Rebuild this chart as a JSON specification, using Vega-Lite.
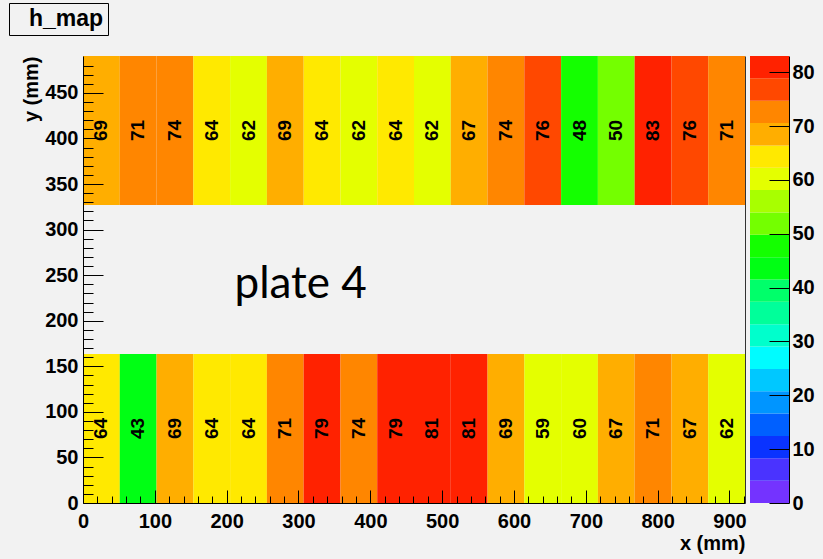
{
  "$schema": "https://vega.github.io/schema/vega-lite/v6.json",
  "background": "#f2f2f2",
  "padding": {"left": 8, "top": 2, "right": 15, "bottom": 10},
  "config": {
    "view": {"stroke": null},
    "font": "Liberation Sans"
  },
  "spacing": 3,
  "resolve": {"scale": {"color": "shared"}},
  "hconcat": [
    {
      "width": 662,
      "height": 447,
      "data": {"values": [
        {"x0": 0, "x1": 51.2, "xc": 25.6, "y0": 327, "y1": 490.5, "yc": 408.75, "v": 69},
        {"x0": 51.2, "x1": 102.4, "xc": 76.8, "y0": 327, "y1": 490.5, "yc": 408.75, "v": 71},
        {"x0": 102.4, "x1": 153.6, "xc": 128, "y0": 327, "y1": 490.5, "yc": 408.75, "v": 74},
        {"x0": 153.6, "x1": 204.8, "xc": 179.2, "y0": 327, "y1": 490.5, "yc": 408.75, "v": 64},
        {"x0": 204.8, "x1": 256, "xc": 230.4, "y0": 327, "y1": 490.5, "yc": 408.75, "v": 62},
        {"x0": 256, "x1": 307.2, "xc": 281.6, "y0": 327, "y1": 490.5, "yc": 408.75, "v": 69},
        {"x0": 307.2, "x1": 358.4, "xc": 332.8, "y0": 327, "y1": 490.5, "yc": 408.75, "v": 64},
        {"x0": 358.4, "x1": 409.6, "xc": 384, "y0": 327, "y1": 490.5, "yc": 408.75, "v": 62},
        {"x0": 409.6, "x1": 460.8, "xc": 435.2, "y0": 327, "y1": 490.5, "yc": 408.75, "v": 64},
        {"x0": 460.8, "x1": 512, "xc": 486.4, "y0": 327, "y1": 490.5, "yc": 408.75, "v": 62},
        {"x0": 512, "x1": 563.2, "xc": 537.6, "y0": 327, "y1": 490.5, "yc": 408.75, "v": 67},
        {"x0": 563.2, "x1": 614.4, "xc": 588.8, "y0": 327, "y1": 490.5, "yc": 408.75, "v": 74},
        {"x0": 614.4, "x1": 665.6, "xc": 640, "y0": 327, "y1": 490.5, "yc": 408.75, "v": 76},
        {"x0": 665.6, "x1": 716.8, "xc": 691.2, "y0": 327, "y1": 490.5, "yc": 408.75, "v": 48},
        {"x0": 716.8, "x1": 768, "xc": 742.4, "y0": 327, "y1": 490.5, "yc": 408.75, "v": 50},
        {"x0": 768, "x1": 819.2, "xc": 793.6, "y0": 327, "y1": 490.5, "yc": 408.75, "v": 83},
        {"x0": 819.2, "x1": 870.4, "xc": 844.8, "y0": 327, "y1": 490.5, "yc": 408.75, "v": 76},
        {"x0": 870.4, "x1": 921.6, "xc": 896, "y0": 327, "y1": 490.5, "yc": 408.75, "v": 71},
        {"x0": 0, "x1": 51.2, "xc": 25.6, "y0": 0, "y1": 163.5, "yc": 81.75, "v": 64},
        {"x0": 51.2, "x1": 102.4, "xc": 76.8, "y0": 0, "y1": 163.5, "yc": 81.75, "v": 43},
        {"x0": 102.4, "x1": 153.6, "xc": 128, "y0": 0, "y1": 163.5, "yc": 81.75, "v": 69},
        {"x0": 153.6, "x1": 204.8, "xc": 179.2, "y0": 0, "y1": 163.5, "yc": 81.75, "v": 64},
        {"x0": 204.8, "x1": 256, "xc": 230.4, "y0": 0, "y1": 163.5, "yc": 81.75, "v": 64},
        {"x0": 256, "x1": 307.2, "xc": 281.6, "y0": 0, "y1": 163.5, "yc": 81.75, "v": 71},
        {"x0": 307.2, "x1": 358.4, "xc": 332.8, "y0": 0, "y1": 163.5, "yc": 81.75, "v": 79},
        {"x0": 358.4, "x1": 409.6, "xc": 384, "y0": 0, "y1": 163.5, "yc": 81.75, "v": 74},
        {"x0": 409.6, "x1": 460.8, "xc": 435.2, "y0": 0, "y1": 163.5, "yc": 81.75, "v": 79},
        {"x0": 460.8, "x1": 512, "xc": 486.4, "y0": 0, "y1": 163.5, "yc": 81.75, "v": 81},
        {"x0": 512, "x1": 563.2, "xc": 537.6, "y0": 0, "y1": 163.5, "yc": 81.75, "v": 81},
        {"x0": 563.2, "x1": 614.4, "xc": 588.8, "y0": 0, "y1": 163.5, "yc": 81.75, "v": 69},
        {"x0": 614.4, "x1": 665.6, "xc": 640, "y0": 0, "y1": 163.5, "yc": 81.75, "v": 59},
        {"x0": 665.6, "x1": 716.8, "xc": 691.2, "y0": 0, "y1": 163.5, "yc": 81.75, "v": 60},
        {"x0": 716.8, "x1": 768, "xc": 742.4, "y0": 0, "y1": 163.5, "yc": 81.75, "v": 67},
        {"x0": 768, "x1": 819.2, "xc": 793.6, "y0": 0, "y1": 163.5, "yc": 81.75, "v": 71},
        {"x0": 819.2, "x1": 870.4, "xc": 844.8, "y0": 0, "y1": 163.5, "yc": 81.75, "v": 67},
        {"x0": 870.4, "x1": 921.6, "xc": 896, "y0": 0, "y1": 163.5, "yc": 81.75, "v": 62}
      ]},
      "resolve": {"axis": {"x": "independent", "y": "independent"}},
      "layer": [
        {
          "mark": {"type": "rect", "stroke": null},
          "encoding": {
            "x": {"field": "x0", "type": "quantitative",
              "scale": {"domain": [0, 921.6], "nice": false, "zero": false},
              "axis": {
                "zindex": 1,
                "orient": "bottom",
                "title": "x (mm)", "titleAnchor": "end", "titleFont": "Liberation Sans", "titleFontWeight": "bold", "titleFontSize": 20, "titleColor": "black", "titlePadding": -4,
                "values": [0,20,40,60,80,100,120,140,160,180,200,220,240,260,280,300,320,340,360,380,400,420,440,460,480,500,520,540,560,580,600,620,640,660,680,700,720,740,760,780,800,820,840,860,880,900,920],
                "labelExpr": "datum.value % 100 === 0 ? datum.label : ''",
                "tickSize": {"condition": {"test": "datum.value % 100 === 0", "value": -13}, "value": -7},
                "tickColor": "black", "tickWidth": 1, "domainColor": "black", "domainWidth": 1,
                "labelFont": "Liberation Sans", "labelFontSize": 20, "labelFontWeight": "bold", "labelColor": "black",
                "labelPadding": 21, "labelOverlap": false, "labelFlush": false, "grid": false
              }},
            "x2": {"field": "x1"},
            "y": {"field": "y0", "type": "quantitative",
              "scale": {"domain": [0, 490.5], "nice": false, "zero": false},
              "axis": {
                "zindex": 1,
                "orient": "left",
                "title": "y (mm)", "titleAnchor": "end", "titleFont": "Liberation Sans", "titleFontWeight": "bold", "titleFontSize": 20, "titleColor": "black", "titlePadding": 3,
                "values": [0,10,20,30,40,50,60,70,80,90,100,110,120,130,140,150,160,170,180,190,200,210,220,230,240,250,260,270,280,290,300,310,320,330,340,350,360,370,380,390,400,410,420,430,440,450,460,470,480],
                "labelExpr": "datum.value % 50 === 0 ? datum.label : ''",
                "tickSize": {"condition": {"test": "datum.value % 50 === 0", "value": -20}, "value": -10},
                "tickColor": "black", "tickWidth": 1, "domainColor": "black", "domainWidth": 1,
                "labelFont": "Liberation Sans", "labelFontSize": 20, "labelFontWeight": "bold", "labelColor": "black",
                "labelPadding": 25, "labelOverlap": false, "labelFlush": false, "grid": false
              }},
            "y2": {"field": "y1"},
            "color": {"field": "v", "type": "quantitative",
              "scale": {"type": "threshold",
                "domain": [4.15, 8.3, 12.45, 16.6, 20.75, 24.9, 29.05, 33.2, 37.35, 41.5, 45.65, 49.8, 53.95, 58.1, 62.25, 66.4, 70.55, 74.7, 78.85],
                "range": ["#7433ff","#4a33ff","#0a33ff","#0060ff","#0095ff","#00c8ff","#00fcff","#00ffcc","#00ff9a","#00ff6a","#00ff14","#14ff00","#74ff00","#a8ff00","#e4ff00","#ffe900","#ffae00","#ff8600","#ff4800","#ff2200"]},
              "legend": null}
          }
        },
        {
          "mark": {"type": "text", "angle": 270, "font": "Liberation Sans", "fontWeight": "bold", "fontSize": 19, "color": "black", "align": "center", "baseline": "middle"},
          "encoding": {
            "x": {"field": "xc", "type": "quantitative", "axis": null},
            "y": {"field": "yc", "type": "quantitative", "axis": null},
            "text": {"field": "v", "type": "quantitative"}
          }
        },
        {
          "mark": {"type": "point", "opacity": 0, "size": 1},
          "encoding": {
            "shape": {"datum": "h_map", "type": "nominal",
              "legend": {"orient": "none", "legendX": -74, "legendY": -53, "title": null,
                "strokeColor": "black", "fillColor": "#f2f2f2", "padding": 4,
                "symbolSize": 1, "symbolOpacity": 0, "symbolStrokeWidth": 0, "labelOffset": -7,
                "labelFont": "Liberation Sans", "labelFontWeight": "bold", "labelFontSize": 23, "labelColor": "black",
                "labelLimit": 300}}
          }
        },
        {
          "data": {"values": [{"label": "plate 4", "px": 303, "py": 225}]},
          "mark": {"type": "text", "font": "Lato", "fontSize": 44, "color": "black", "align": "center", "baseline": "alphabetic"},
          "encoding": {
            "x": {"field": "px", "type": "quantitative", "axis": null},
            "y": {"field": "py", "type": "quantitative",
              "axis": {"zindex": 1, "orient": "right", "labels": false, "ticks": false, "title": null, "domain": true, "domainColor": "#333333", "grid": false}},
            "text": {"field": "label", "type": "nominal"}
          }
        }
      ]
    },
    {
      "width": 39,
      "height": 447,
      "data": {"values": [
        {"lo": 0, "hi": 4.15, "v": 2.1},
        {"lo": 4.15, "hi": 8.3, "v": 6.2},
        {"lo": 8.3, "hi": 12.45, "v": 10.4},
        {"lo": 12.45, "hi": 16.6, "v": 14.5},
        {"lo": 16.6, "hi": 20.75, "v": 18.7},
        {"lo": 20.75, "hi": 24.9, "v": 22.8},
        {"lo": 24.9, "hi": 29.05, "v": 27},
        {"lo": 29.05, "hi": 33.2, "v": 31.1},
        {"lo": 33.2, "hi": 37.35, "v": 35.3},
        {"lo": 37.35, "hi": 41.5, "v": 39.4},
        {"lo": 41.5, "hi": 45.65, "v": 43.6},
        {"lo": 45.65, "hi": 49.8, "v": 47.7},
        {"lo": 49.8, "hi": 53.95, "v": 51.9},
        {"lo": 53.95, "hi": 58.1, "v": 56},
        {"lo": 58.1, "hi": 62.25, "v": 60.2},
        {"lo": 62.25, "hi": 66.4, "v": 64.3},
        {"lo": 66.4, "hi": 70.55, "v": 68.5},
        {"lo": 70.55, "hi": 74.7, "v": 72.6},
        {"lo": 74.7, "hi": 78.85, "v": 76.8},
        {"lo": 78.85, "hi": 83, "v": 80.9}
      ]},
      "mark": {"type": "rect", "stroke": null},
      "encoding": {
        "y": {"field": "lo", "type": "quantitative",
          "scale": {"domain": [0, 83], "nice": false, "zero": false},
          "axis": {"zindex": 1, "orient": "right", "title": null, "values": [0,10,20,30,40,50,60,70,80],
            "tickSize": -20, "tickColor": "black", "domainColor": "black", "domainWidth": 1,
            "labelFont": "Liberation Sans", "labelFontSize": 20, "labelFontWeight": "bold", "labelColor": "black",
            "labelPadding": 23, "labelOverlap": false, "labelFlush": false, "grid": false}},
        "y2": {"field": "hi"},
        "color": {"field": "v", "type": "quantitative",
          "scale": {"type": "threshold",
            "domain": [4.15, 8.3, 12.45, 16.6, 20.75, 24.9, 29.05, 33.2, 37.35, 41.5, 45.65, 49.8, 53.95, 58.1, 62.25, 66.4, 70.55, 74.7, 78.85],
            "range": ["#7433ff","#4a33ff","#0a33ff","#0060ff","#0095ff","#00c8ff","#00fcff","#00ffcc","#00ff9a","#00ff6a","#00ff14","#14ff00","#74ff00","#a8ff00","#e4ff00","#ffe900","#ffae00","#ff8600","#ff4800","#ff2200"]},
          "legend": null}
      }
    }
  ]
}
